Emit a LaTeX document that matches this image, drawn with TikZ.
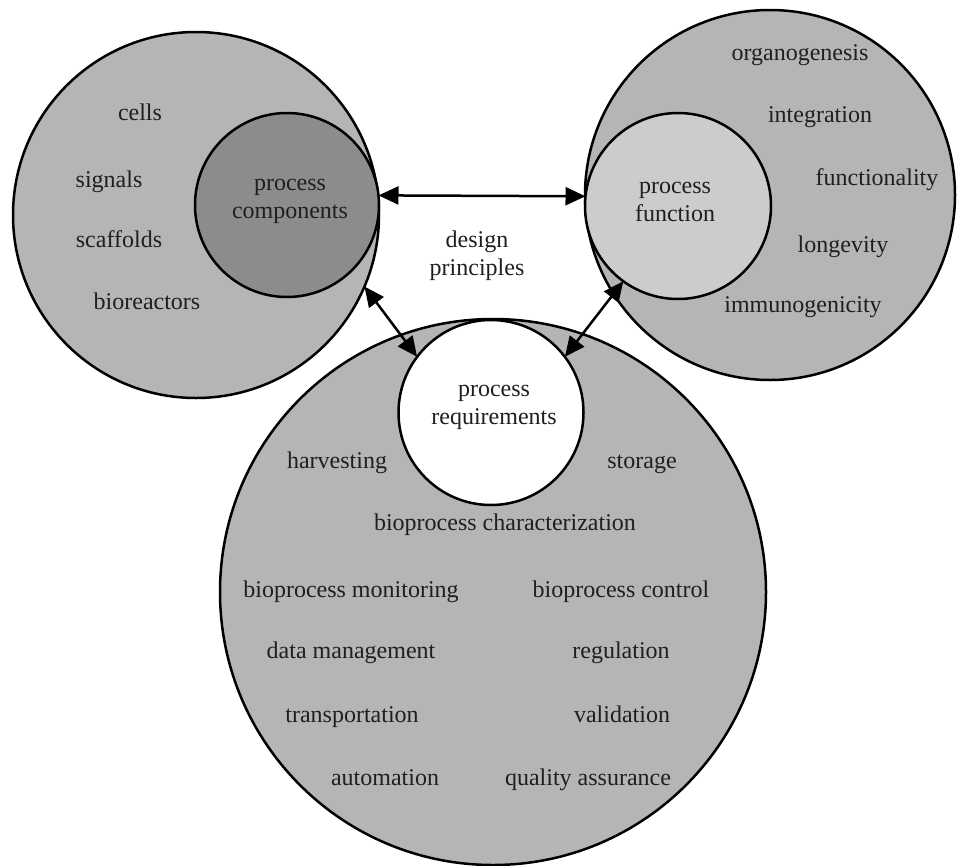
\documentclass[tikz,border=0pt]{standalone}
\usepackage{fontspec}
\setmainfont{Liberation Serif}
\usetikzlibrary{arrows.meta}
\newlength{\du}
\setlength{\du}{1pt}
\definecolor{ringgray}{rgb}{0.710000, 0.710000, 0.710000}
\definecolor{coregray}{rgb}{0.550000, 0.550000, 0.550000}
\definecolor{paregray}{rgb}{0.800000, 0.800000, 0.800000}
\definecolor{labelcolor}{rgb}{0.120000, 0.120000, 0.120000}
\tikzset{
  ring/.style={circle, draw=black, line width=2.5\du, inner sep=0pt, outer sep=0pt},
  lbl/.style={font=\fontsize{24}{28}\selectfont, text=labelcolor, inner sep=0pt, text height=17\du, text depth=6\du},
  lbltwo/.style={font=\fontsize{24}{28}\selectfont, text=labelcolor, inner sep=0pt, align=center},
  link/.style={{Triangle[length=20pt,width=18pt]}-{Triangle[length=20pt,width=18pt]}, line width=2.5\du, draw=black}
}

\begin{document}
\begin{tikzpicture}
\pgftransformyscale{-1.000000}
\useasboundingbox (0\du,0\du) rectangle (961\du,865\du);
% components
\node[ring, fill=ringgray, minimum size=366\du] (lhs) at (196\du,215\du) {};
\node[ring, fill=coregray, minimum size=184\du] (comp) at (287\du,205\du) {};
\node[lbltwo] (comptext) at (290\du,201\du) {process\\components};
\node[lbl] (cells) at (140\du,115\du) {cells};
\node[lbl] (signals) at (109\du,182\du) {signals};
\node[lbl] (scaffolds) at (119\du,242\du) {scaffolds};
\node[lbl] (bioreactors) at (147\du,304\du) {bioreactors};
% function
\node[ring, fill=ringgray, minimum size=370\du] (rhs) at (770\du,195\du) {};
\node[ring, fill=paregray, minimum size=186\du] (func) at (678\du,206\du) {};
\node[lbltwo] (functext) at (675\du,202\du) {process\\function};
\node[lbl] (organogenesis) at (800\du,55\du) {organogenesis};
\node[lbl] (integration) at (820\du,117\du) {integration};
\node[lbl] (functionality) at (877\du,180\du) {functionality};
\node[lbl] (longevity) at (843\du,247\du) {longevity};
\node[lbl] (immunogenicity) at (803\du,307\du) {immunogenicity};
% requirements
\node[ring, fill=ringgray, minimum size=546\du] (bot) at (493\du,592\du) {};
\node[ring, fill=white, minimum size=185\du] (req) at (491\du,412.5\du) {};
\node[lbltwo] (reqtext) at (494\du,407\du) {process\\requirements};
\node[lbl] (harvesting) at (337\du,463\du) {harvesting};
\node[lbl] (storage) at (642\du,463\du) {storage};
\node[lbl] (characterization) at (505\du,525\du) {bioprocess characterization};
\node[lbl] (monitoring) at (351\du,592\du) {bioprocess monitoring};
\node[lbl] (control) at (621\du,592\du) {bioprocess control};
\node[lbl] (datamgmt) at (351\du,653\du) {data management};
\node[lbl] (regulation) at (621\du,653\du) {regulation};
\node[lbl] (transportation) at (352\du,717\du) {transportation};
\node[lbl] (validation) at (622\du,717\du) {validation};
\node[lbl] (automation) at (385\du,780\du) {automation};
\node[lbl] (quality) at (588\du,780\du) {quality assurance};
% design principles
\node[lbltwo] (design) at (477\du,256\du) {design\\principles};
\draw[link] (comp.6) -- (func.174);
\draw[link] (lhs.-23) -- (req.143);
\draw[link] (func.234) -- (req.37);
\end{tikzpicture}
\end{document}
